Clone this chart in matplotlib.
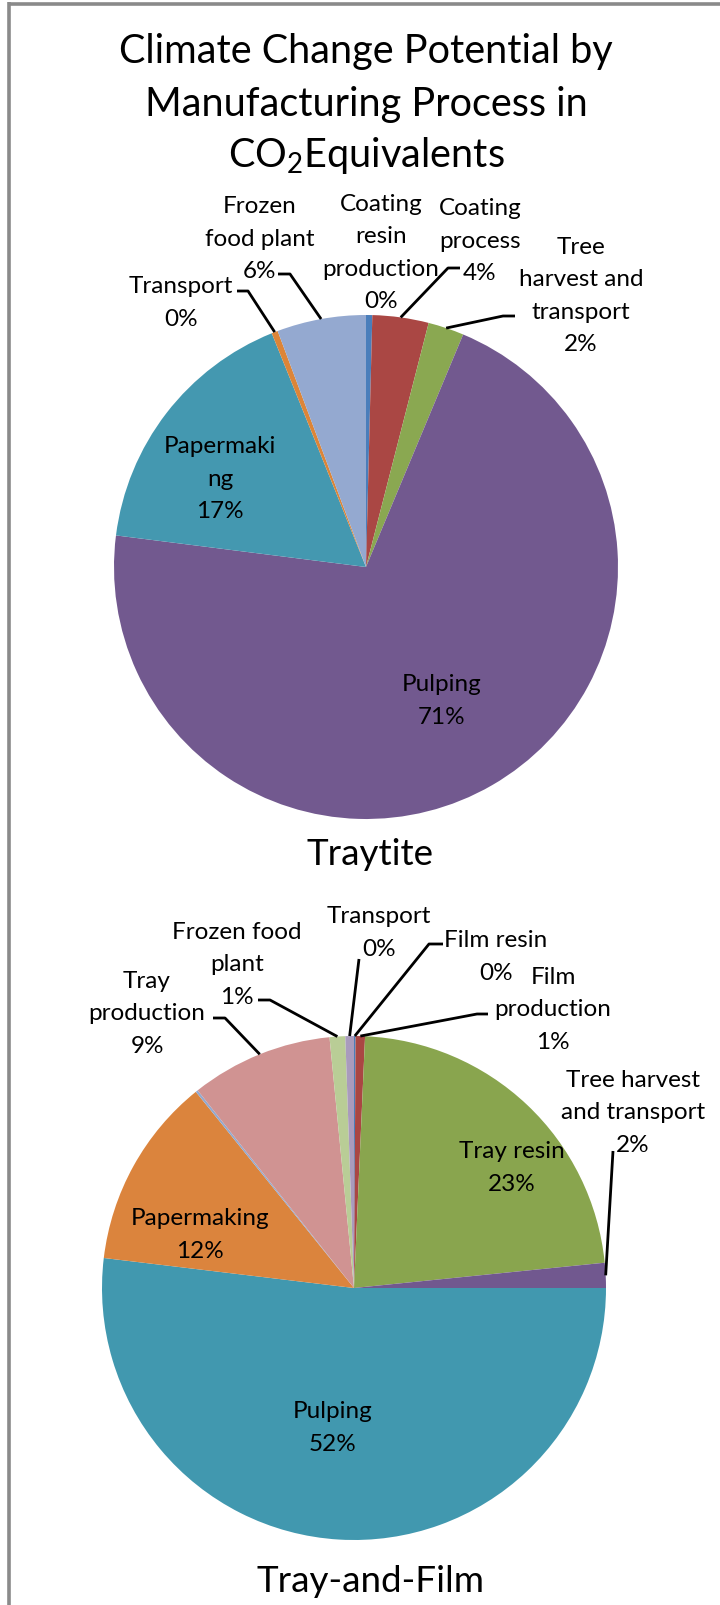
import matplotlib
matplotlib.use("Agg")
import matplotlib.pyplot as plt
import numpy as np

plt.rcParams['font.family'] = ['Lato', 'DejaVu Sans']
plt.rcParams['mathtext.fontset'] = 'custom'
plt.rcParams['mathtext.rm'] = 'Lato'
plt.rcParams['mathtext.it'] = 'Lato:italic'

# ---------------- data ----------------
traytite_labels = ["Coating\nresin\nproduction", "Coating\nprocess", "Tree\nharvest and\ntransport",
                   "Pulping", "Papermaki\nng", "Transport", "Frozen\nfood plant"]
traytite_values = [0.4, 3.6, 2.3, 70.7, 16.9, 0.4, 5.7]
traytite_pct = ["0%", "4%", "2%", "71%", "17%", "0%", "6%"]
traytite_colors = ["#4A7EBB", "#AA4744", "#8AA851", "#72598F", "#4498B0", "#DC8538", "#94A9D0"]

tf_labels = ["Film resin", "Film\nproduction", "Tray resin", "Tree harvest\nand transport",
             "Pulping", "Papermaking", "", "Tray\nproduction", "Frozen food\nplant", "Transport"]
tf_values = [0.1, 0.6, 22.7, 1.6, 51.9, 12.3, 0.15, 9.1, 1.0, 0.55]
tf_pct = ["0%", "1%", "23%", "2%", "52%", "12%", "", "9%", "1%", "0%"]
tf_colors = ["#4A7EBB", "#AA4643", "#89A54E", "#71588F", "#4198AF", "#DB843D", "#93A9CF",
             "#D09392", "#B9CD96", "#A99BBD"]

title_lines = ["Climate Change Potential by", "Manufacturing Process in",
               "CO$_\\mathrm{2}$Equivalents"]
chart_names = ["Traytite", "Tray-and-Film"]

# ---------------- layout (pixel space, y measured from top) ----------------
W, H = 720, 1606
def Y(y):
    return H - y

pie_centers = [(366, 568), (354, 1289)]
pie_radius = 252

# label block centre positions
traytite_lab_pos = [(381, 251), (480, 239), (581, 294), (442, 699), (220, 477), (181, 301), (260, 237)]
# leader elbow points (None = no leader)
traytite_elbow = [None, ((460, 269), (448, 269)), ((515, 317), (503, 317)), None, None,
                  ((237, 292), (248, 292)), ((278, 275), (290, 275))]

tf_lab_pos = [(496, 955), (553, 1008), (512, 1166), (633, 1111), (333, 1426), (200, 1233), None,
              (147, 1012), (237, 963), (379, 931)]
tf_elbow = [((443, 945), (429, 945)), ((488, 1015), (477, 1015)), None, ((613, 1152),),
            None, None, None, ((213, 1019), (225, 1019)), ((258, 1001), (270, 1001)),
            ((359, 960),)]

title_baselines = [63, 116, 167]
name_pos = [(370, 865), (371, 1592)]

fig = plt.figure(figsize=(W / 100, H / 100), dpi=100)
ax = fig.add_axes([0, 0, 1, 1])

LAB_FS = 17.5
LAB_LS = 32.5
LAB_BASE = 8.5
NAME_FS = 26.5
TITLE_FS = 28.5


def draw_pie(values, colors, labels, pcts, center, lab_pos, elbows):
    cx, cy = center
    wedges, _ = ax.pie(values, colors=colors, startangle=90, counterclock=False,
                       radius=pie_radius, center=(cx, Y(cy)),
                       wedgeprops=dict(linewidth=0.3, edgecolor='none', antialiased=True),
                       frame=True)
    for w, lab, pct, pos, elb in zip(wedges, labels, pcts, lab_pos, elbows):
        if pos is None:
            continue
        lines = lab.split("\n") + [pct]
        n = len(lines)
        for i, line in enumerate(lines):
            yc = pos[1] + (i - (n - 1) / 2) * LAB_LS
            ax.text(pos[0], Y(yc + LAB_BASE), line, ha='center', va='baseline',
                    fontsize=LAB_FS, color='black', zorder=5)
        if elb is not None:
            mid = np.deg2rad((w.theta1 + w.theta2) / 2)
            ex = cx + pie_radius * np.cos(mid)
            ey = Y(cy) + pie_radius * np.sin(mid)
            xs = [p[0] for p in elb] + [ex]
            ys = [Y(p[1]) for p in elb] + [ey]
            ax.plot(xs, ys, color='black', lw=2.0, solid_capstyle='butt', zorder=4)


draw_pie(traytite_values, traytite_colors, traytite_labels, traytite_pct,
         pie_centers[0], traytite_lab_pos, traytite_elbow)
draw_pie(tf_values, tf_colors, tf_labels, tf_pct,
         pie_centers[1], tf_lab_pos, tf_elbow)

for line, yb in zip(title_lines, title_baselines):
    ax.text(366, Y(yb), line, ha='center', va='baseline', fontsize=TITLE_FS)
for name, (nx, ny) in zip(chart_names, name_pos):
    ax.text(nx, Y(ny), name, ha='center', va='baseline', fontsize=NAME_FS)

# frame border (left and top visible)
ax.plot([9, 9], [Y(3), Y(H + 5)], color='#8A8A8A', lw=2.6, solid_capstyle='butt')
ax.plot([7.5, W + 5], [Y(4.5), Y(4.5)], color='#8A8A8A', lw=2.6, solid_capstyle='butt')

ax.set_xlim(0, W)
ax.set_ylim(0, H)
ax.set_aspect('equal')
ax.axis('off')

fig.savefig("out.png", dpi=100)
